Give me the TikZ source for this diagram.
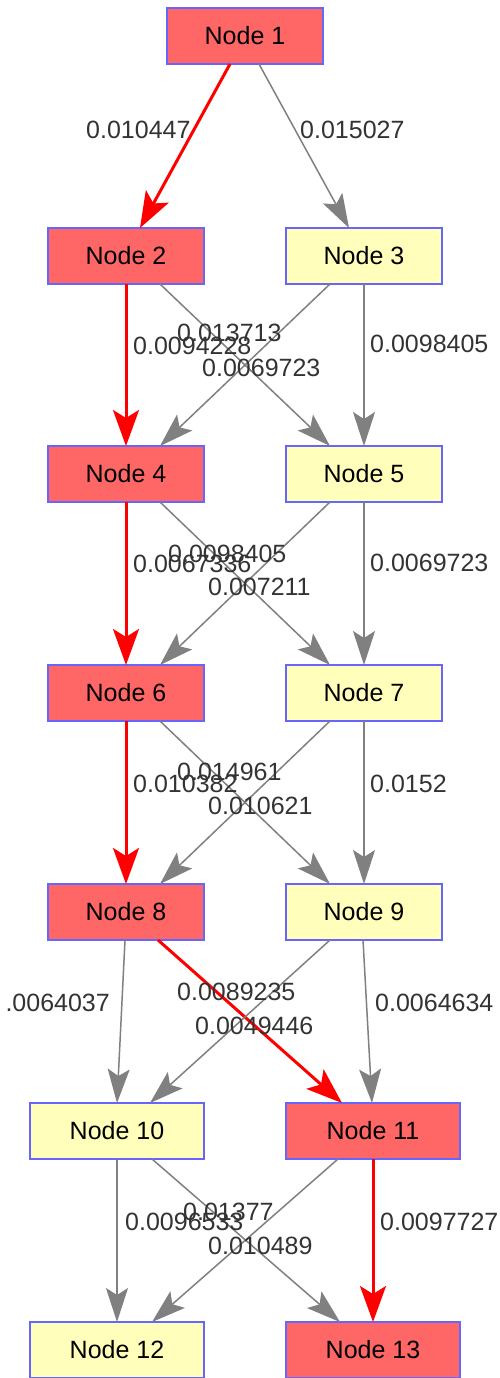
\documentclass[tikz,border=0pt]{standalone}
\usepackage{fontspec}
\setmainfont{Liberation Sans}
\usetikzlibrary{arrows.meta}
\definecolor{nodered}{RGB}{255,102,102}
\definecolor{nodeyellow}{RGB}{255,255,187}
\definecolor{nodeborder}{RGB}{102,102,255}
\definecolor{edgegray}{RGB}{128,128,128}
\definecolor{edgered}{RGB}{255,0,0}
\definecolor{labeltext}{RGB}{51,51,51}
\tikzset{
  box/.style={draw=nodeborder, line width=2pt, minimum height=56pt, inner sep=0pt, outer sep=0pt, font=\fontsize{25}{30}\selectfont, text=black},
  narrowbox/.style={box, minimum width=156pt},
  widebox/.style={box, minimum width=174pt},
  hot/.style={fill=nodered},
  cold/.style={fill=nodeyellow},
  grayedge/.style={draw=edgegray, line width=1.5pt, -{Stealth[length=34pt,width=22pt,inset=7pt]}},
  rededge/.style={draw=edgered, line width=3pt, -{Stealth[length=36pt,width=26pt,inset=8pt]}},
  wlabel/.style={anchor=west, inner sep=0pt, font=\fontsize{25}{30}\selectfont, text=labeltext},
  elabel/.style={anchor=east, inner sep=0pt, font=\fontsize{25}{30}\selectfont, text=labeltext}
}
\begin{document}
\begin{tikzpicture}[x=1pt,y=-1pt]
\useasboundingbox (0,0) rectangle (500,1378);
% nodes
\node[narrowbox,hot]  (n1)  at (245,36)   {Node 1};
\node[narrowbox,hot]  (n2)  at (126,256)  {Node 2};
\node[narrowbox,cold] (n3)  at (364,256)  {Node 3};
\node[narrowbox,hot]  (n4)  at (126,474)  {Node 4};
\node[narrowbox,cold] (n5)  at (364,474)  {Node 5};
\node[narrowbox,hot]  (n6)  at (126,693)  {Node 6};
\node[narrowbox,cold] (n7)  at (364,693)  {Node 7};
\node[narrowbox,hot]  (n8)  at (126,912)  {Node 8};
\node[narrowbox,cold] (n9)  at (364,912)  {Node 9};
\node[widebox,cold]   (n10) at (117,1131) {Node 10};
\node[widebox,hot]    (n11) at (373,1131) {Node 11};
\node[widebox,cold]   (n12) at (117,1350) {Node 12};
\node[widebox,hot]    (n13) at (373,1350) {Node 13};
% level 1
\draw[rededge]  ([xshift=-15pt]n1.south) -- ([xshift=14pt]n2.north);
\draw[grayedge] ([xshift=14pt]n1.south) -- ([xshift=-15pt]n3.north);
% levels 2-4-6-8
\foreach \a/\b/\c/\d in {n2/n3/n4/n5, n4/n5/n6/n7, n6/n7/n8/n9}{
  \draw[rededge]  (\a.south) -- (\c.north);
  \draw[grayedge] ([xshift=34pt]\a.south) -- ([xshift=-34pt]\d.north);
  \draw[grayedge] ([xshift=-34pt]\b.south) -- ([xshift=34pt]\c.north);
  \draw[grayedge] (\b.south) -- (\d.north);
}
% level 8 -> 10/11
\draw[grayedge] ([xshift=-1pt]n8.south) -- (n10.north);
\draw[rededge]  ([xshift=32pt]n8.south) -- ([xshift=-31pt]n11.north);
\draw[grayedge] ([xshift=-34pt]n9.south) -- ([xshift=33pt]n10.north);
\draw[grayedge] ([xshift=-1pt]n9.south) -- ([xshift=-1pt]n11.north);
% level 10/11 -> 12/13
\draw[grayedge] (n10.south) -- (n12.north);
\draw[grayedge] ([xshift=35pt]n10.south) -- ([xshift=-33pt]n13.north);
\draw[grayedge] ([xshift=-35pt]n11.south) -- ([xshift=35pt]n12.north);
\draw[rededge]  (n11.south) -- (n13.north);
% labels
\node[wlabel] (l12) at (86,130) {0.010447};
\node[wlabel] (l13) at (300,130) {0.015027};
\node[wlabel] (l25) at (177,333) {0.013713};
\node[wlabel] (l24) at (133,346) {0.0094228};
\node[wlabel] (l34) at (202,368) {0.0069723};
\node[wlabel] (l35) at (370,344) {0.0098405};
\node[wlabel] (l47) at (168,554) {0.0098405};
\node[wlabel] (l46) at (133,564) {0.0067336};
\node[wlabel] (l56) at (208,587) {0.007211};
\node[wlabel] (l57) at (370,563) {0.0069723};
\node[wlabel] (l69) at (177,772) {0.014961};
\node[wlabel] (l68) at (133,784) {0.010382};
\node[wlabel] (l78) at (208,806) {0.010621};
\node[wlabel] (l79) at (370,784) {0.0152};
\node[elabel] (l810) at (110,1003) {.0064037};
\node[wlabel] (l811) at (177,992) {0.0089235};
\node[wlabel] (l910) at (195,1026) {0.0049446};
\node[wlabel] (l911) at (375,1003) {0.0064634};
\node[wlabel] (l1013) at (183,1212) {0.01377};
\node[wlabel] (l1012) at (125,1222) {0.0096533};
\node[wlabel] (l1112) at (208,1246) {0.010489};
\node[wlabel] (l1113) at (380,1222) {0.0097727};
\end{tikzpicture}
\end{document}
